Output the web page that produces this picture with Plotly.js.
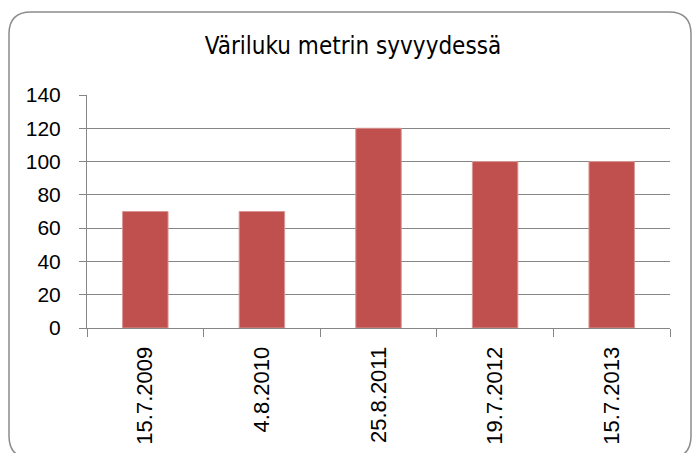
<!DOCTYPE html>
<html>
<head>
<meta charset="utf-8">
<script src="https://cdn.plot.ly/plotly-3.0.1.min.js"></script>
<style>
html,body{margin:0;padding:0;background:#fff;}
#chart{width:693px;height:453px;}
</style>
</head>
<body>
<div id="chart"></div>
<script>
const categories = ["15.7.2009", "4.8.2010", "25.8.2011", "19.7.2012", "15.7.2013"];
const values = [70, 70, 120, 100, 100];
const yTicks = [0, 20, 40, 60, 80, 100, 120, 140];
const chartTitle = "Väriluku metrin syvyydessä";

const W = 693, H = 453;
const L = 87, R = 670, T = 95, B = 328;
const pw = R - L, ph = B - T;
function px(x){ return (x - L) / pw; }
function py(y){ return (B - y) / ph; }

// rounded border path in paper coords
const bx0 = 9, bx1 = 691, by0 = 12, by1 = 458, rad = 22;
function P(x, y){ return px(x).toFixed(5) + "," + py(y).toFixed(5); }
const borderPath =
  "M" + P(bx0 + rad, by0) +
  " L" + P(bx1 - rad, by0) +
  " Q" + P(bx1, by0) + " " + P(bx1, by0 + rad) +
  " L" + P(bx1, by1 - rad) +
  " Q" + P(bx1, by1) + " " + P(bx1 - rad, by1) +
  " L" + P(bx0 + rad, by1) +
  " Q" + P(bx0, by1) + " " + P(bx0, by1 - rad) +
  " L" + P(bx0, by0 + rad) +
  " Q" + P(bx0, by0) + " " + P(bx0 + rad, by0) + " Z";

const trace = {
  type: "bar",
  x: categories,
  y: values,
  marker: { color: "#C0504D", line: { color: "#D99694", width: 1 } },
  hoverinfo: "x+y"
};

const layout = {
  width: W, height: H,
  margin: { l: L, r: W - R, t: T, b: H - B, pad: 0 },
  paper_bgcolor: "#ffffff",
  plot_bgcolor: "#ffffff",
  showlegend: false,
  bargap: 0.61,
  title: {
    text: chartTitle,
    font: { family: "DejaVu Sans Condensed, Liberation Sans Narrow, Liberation Sans, sans-serif", size: 24, color: "#000000" },
    x: 353 / W, xanchor: "center", xref: "container",
    y: 1 - 46 / H, yanchor: "middle", yref: "container"
  },
  font: { family: "Liberation Sans, Arial, sans-serif", color: "#000000" },
  xaxis: {
    type: "category",
    tickangle: -90,
    tickfont: { size: 22, family: "Liberation Sans, Arial, sans-serif", color: "#000" },
    showline: true, linecolor: "#868686", linewidth: 1,
    ticks: "outside", tickson: "boundaries", ticklen: 8, tickcolor: "#868686", tickwidth: 1,
    showgrid: false, zeroline: false,
    ticklabelstandoff: 9,
    fixedrange: true
  },
  yaxis: {
    range: [0, 140],
    tickvals: yTicks,
    ticktext: yTicks.map(String),
    tickfont: { size: 21, family: "Liberation Sans, Arial, sans-serif", color: "#000" },
    showline: true, linecolor: "#868686", linewidth: 1,
    ticks: "outside", ticklen: 7, tickcolor: "#868686", tickwidth: 1,
    showgrid: true, gridcolor: "#868686", gridwidth: 1,
    zeroline: false,
    ticklabelstandoff: 14,
    fixedrange: true
  },
  shapes: [{
    type: "path", xref: "paper", yref: "paper",
    path: borderPath,
    line: { color: "#8C8C8C", width: 1.5 },
    fillcolor: "rgba(0,0,0,0)",
    layer: "above"
  }]
};

Plotly.newPlot("chart", [trace], layout, { staticPlot: true, displayModeBar: false });
</script>
</body>
</html>
